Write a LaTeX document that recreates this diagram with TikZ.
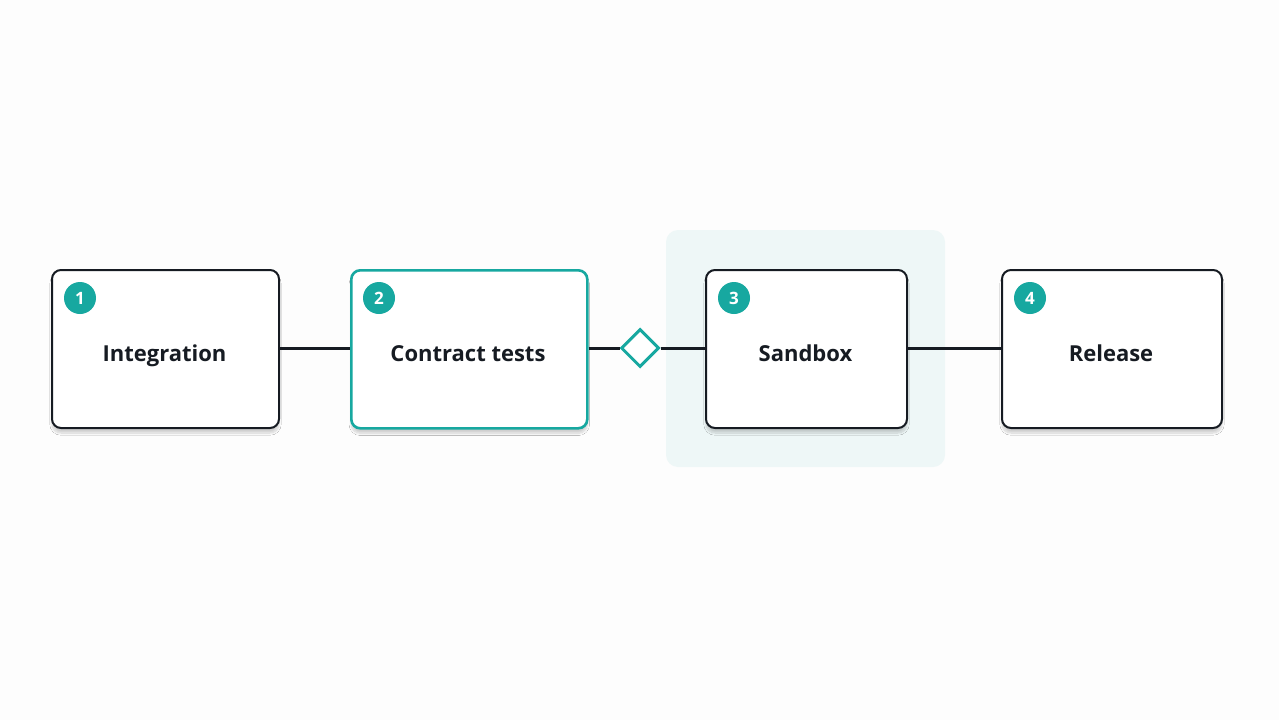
\documentclass[tikz,border=0pt]{standalone}
\usepackage{fontspec}
\setmainfont{Open Sans}
\usetikzlibrary{shapes.geometric,shadows.blur}
\definecolor{teal1}{HTML}{17A8A0}
\definecolor{ink}{HTML}{161B22}
\definecolor{hl}{HTML}{EEF7F7}
\definecolor{bg}{HTML}{FDFDFD}
\begin{document}
\begin{tikzpicture}[x=1pt,y=-1pt,
  box/.style={draw=ink,line width=2pt,rounded corners=9pt,fill=white,anchor=north west,
    blur shadow={shadow xshift=0pt,shadow yshift=-5pt,shadow blur steps=10,shadow opacity=18}},
  lbl/.style={font=\bfseries\fontsize{22}{26}\selectfont,text=ink,anchor=base},
  badge/.style={circle,fill=teal1,text=white,inner sep=0pt,minimum size=32pt,font=\bfseries\fontsize{17}{20}\selectfont},
  conn/.style={draw=ink,line width=3pt}]
\fill[bg] (0,0) rectangle (1279,720);
\useasboundingbox (0,0) rectangle (1279,720);
\fill[hl,rounded corners=12pt] (666,230) rectangle (945,467);
\node[box,minimum width=227pt,minimum height=158pt] (b1) at (51,269) {};
\node[box,draw=teal1,line width=2.6pt,minimum width=236pt,minimum height=158pt] (b2) at (350,269) {};
\node[box,minimum width=201pt,minimum height=158pt] (b3) at (705,269) {};
\node[box,minimum width=220pt,minimum height=158pt] (b4) at (1001,269) {};
\node[diamond,draw=teal1,line width=3pt,fill=white,minimum width=38pt,minimum height=38pt,inner sep=0pt] (d) at (640,348) {};
\draw[conn] (b1.east|-0,348) -- (b2.west|-0,348);
\draw[conn] (b2.east|-0,348) -- (d.west);
\draw[conn] (d.east) -- (b3.west|-0,348);
\draw[conn] (b3.east|-0,348) -- (b4.west|-0,348);
\node[lbl] (t1) at (164.5,361) {Integration};
\node[lbl] (t2) at (468,361) {Contract tests};
\node[lbl] (t3) at (805.5,361) {Sandbox};
\node[lbl] (t4) at (1111,361) {Release};
\node[badge] (n1) at (80,298) {1};
\node[badge] (n2) at (379,298) {2};
\node[badge] (n3) at (734,298) {3};
\node[badge] (n4) at (1030,298) {4};
\end{tikzpicture}
\end{document}
